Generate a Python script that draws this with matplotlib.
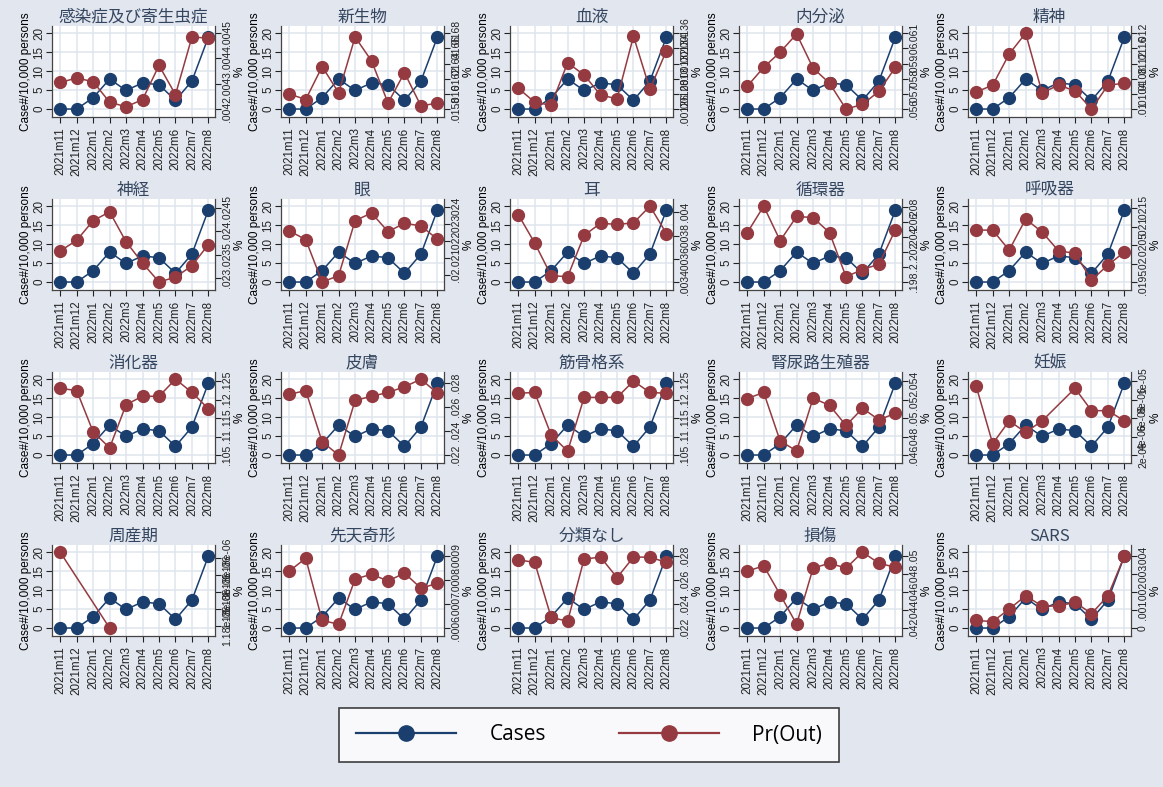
import numpy as np
import matplotlib
matplotlib.use("Agg")
import matplotlib.pyplot as plt
from matplotlib.lines import Line2D

plt.rcParams['font.family'] = ['Liberation Sans', 'Noto Sans CJK JP', 'DejaVu Sans']

months = ['2021m11', '2021m12', '2022m1', '2022m2', '2022m3',
          '2022m4', '2022m5', '2022m6', '2022m7', '2022m8']
cases = [0, 0, 3.0, 7.9, 4.9, 6.9, 6.4, 2.3, 7.4, 19.0]

titles = ['感染症及び寄生虫症', '新生物', '血液', '内分泌', '精神',
          '神経', '眼', '耳', '循環器', '呼吸器',
          '消化器', '皮膚', '筋骨格系', '腎尿路生殖器', '妊娠',
          '周産期', '先天奇形', '分類なし', '損傷', 'SARS']

nan = np.nan
# Pr(Out) as read against the panel height (0-20 band of the left axis)
pr_out = [
    [7.0, 8.2, 7.2, 1.8, 0.6, 2.5, 11.5, 3.8, 19.0, 18.7],
    [4.0, 2.5, 11.2, 4.3, 19.0, 12.7, 1.6, 9.6, 0.8, 1.6],
    [5.5, 1.8, 1.0, 12.2, 9.0, 3.7, 2.7, 19.2, 5.2, 15.4],
    [6.0, 11.0, 15.0, 19.8, 10.8, 6.8, 0.0, 1.2, 4.7, 11.0],
    [4.5, 6.3, 14.5, 20.0, 4.3, 6.3, 4.8, 0.0, 6.3, 6.8],
    [8.2, 11.0, 16.2, 18.5, 10.6, 5.0, 0.0, 1.3, 4.3, 9.9],
    [13.5, 11.2, 0.0, 1.7, 16.2, 18.2, 13.3, 15.5, 14.8, 11.3],
    [17.8, 10.3, 1.7, 1.4, 12.3, 15.5, 15.2, 15.6, 20.0, 12.8],
    [13.0, 20.0, 10.9, 17.3, 17.0, 13.0, 1.4, 3.3, 4.7, 13.8],
    [13.7, 13.7, 8.4, 16.6, 13.2, 8.2, 7.6, 0.5, 4.5, 7.9],
    [17.6, 17.0, 6.1, 1.9, 13.3, 15.5, 15.5, 20.0, 16.5, 12.2],
    [16.0, 17.0, 3.5, 0.0, 14.4, 15.5, 16.5, 18.0, 20.0, 16.3],
    [16.3, 16.5, 5.3, 1.0, 15.2, 15.2, 15.2, 19.5, 16.5, 16.3],
    [14.9, 16.5, 3.7, 1.1, 15.0, 13.1, 7.8, 12.3, 9.3, 11.0],
    [18.1, 3.0, 9.0, 6.0, 9.0, nan, 17.6, 11.7, 11.7, 9.0],
    [20.0, nan, nan, 0.0, nan, nan, nan, nan, nan, nan],
    [15.0, 18.4, 2.0, 1.0, 12.9, 14.2, 12.4, 14.5, 10.5, 11.8],
    [18.0, 17.3, 2.8, 1.8, 18.2, 18.7, 13.3, 18.7, 18.7, 17.3],
    [15.0, 16.4, 8.8, 1.0, 15.8, 17.1, 15.8, 20.0, 17.1, 16.0],
    [2.0, 1.7, 5.0, 8.5, 5.8, 5.8, 6.8, 3.8, 8.5, 19.0],
]

# right-axis (%) tick labels for each panel, with the band they span
right_ticks = [
    (['.0042', '.0043', '.0044', '.0045'], 0, 20),
    (['.0158', '.016', '.0162', '.0164', '.0166', '.0168'], 0, 20),
    (['.00126', '.00128', '.0013', '.00132', '.00134', '.00136'], 0, 20),
    (['.056', '.057', '.058', '.059', '.06', '.061'], 0, 20),
    (['.01', '.0104', '.0108', '.0112', '.0116', '.012'], 0, 20),
    (['.023', '.0235', '.024', '.0245'], 1.0, 19.6),
    (['.02', '.021', '.022', '.023', '.024'], 1.9, 19.9),
    (['.0034', '.0036', '.0038', '.004'], 0, 18.4),
    (['.198', '.2', '.202', '.204', '.206', '.208'], 0, 19.7),
    (['.0195', '.02', '.0205', '.021', '.0215'], 0, 19.5),
    (['.105', '.11', '.115', '.12', '.125'], 0, 19.5),
    (['.022', '.024', '.026', '.028'], 0, 19.0),
    (['.105', '.11', '.115', '.12', '.125'], 0, 19.5),
    (['.046', '.048', '.05', '.052', '.054'], 0, 19.5),
    (['2e-06', '4e-06', '6e-06', '8e-06', '1e-05'], 0, 19.5),
    (['1.18e-06', '1.18e-06', '1.18e-06', '1.18e-06', '1.18e-06'], 0.6, 18.5),
    (['.0006', '.0007', '.0008', '.0009'], 0, 19.0),
    (['.022', '.024', '.026', '.028'], 0, 19.0),
    (['.042', '.044', '.046', '.048', '.05'], 0, 19.0),
    (['0', '.001', '.002', '.003', '.004'], 0, 19.0),
]

navy = '#1a3f6f'
maroon = '#943a40'
bg = '#e2e6ef'
grid_c = '#dfe5ee'
W, H = 1163, 787

fig = plt.figure(figsize=(W / 100, H / 100), dpi=100, facecolor=bg)

x = np.arange(len(months))
for i, title in enumerate(titles):
    r, c = divmod(i, 5)
    left = 52 + c * 229
    top = 26 + r * 173
    ax = fig.add_axes([left / W, 1 - (top + 91) / H, 163 / W, 91 / H])
    ax.set_facecolor('white')
    ax.set_xlim(-0.5, 9.4)
    ax.set_ylim(-2.1, 21.9)
    ax.set_yticks([0, 5, 10, 15, 20])
    ax.set_xticks(x)
    ax.set_xticklabels(months, rotation=90)
    ax.tick_params(labelsize=8.4, colors='#222222', length=4, width=0.8)
    ax.tick_params(axis='y', labelrotation=90, pad=1)
    for lab in ax.get_yticklabels():
        lab.set_va('center')
    ax.grid(True, color=grid_c, linewidth=1.1)
    ax.set_axisbelow(True)
    ax.spines['top'].set_visible(False)
    ax.spines['right'].set_visible(False)
    for s in ('left', 'bottom'):
        ax.spines[s].set_color('#444444')
        ax.spines[s].set_linewidth(0.9)
    ax.set_ylabel('Case#/10,000 persons', fontsize=8.5, labelpad=1)
    ax.set_title(title, fontsize=12, color='#34465f', pad=3,
                 family=['Noto Sans CJK JP', 'DejaVu Sans'])
    ax.plot(x, cases, color=navy, lw=1.1, marker='o', ms=8.5, zorder=3)

    ax2 = ax.twinx()
    ax2.set_ylim(ax.get_ylim())
    labs, p0, p1 = right_ticks[i]
    ax2.set_yticks(np.linspace(p0, p1, len(labs)))
    ax2.set_yticklabels(labs)
    ax2.tick_params(labelsize=7.5, colors='#222222', length=4, width=0.8,
                    labelrotation=90, pad=1)
    for lab in ax2.get_yticklabels():
        lab.set_va('center')
    ax2.spines['top'].set_visible(False)
    ax2.spines['left'].set_visible(False)
    ax2.spines['bottom'].set_visible(False)
    ax2.spines['right'].set_color('#444444')
    ax2.spines['right'].set_linewidth(0.9)
    ax2.set_ylabel('%', fontsize=8.5, rotation=90, labelpad=1)
    y2 = np.array(pr_out[i], dtype=float)
    ok = ~np.isnan(y2)
    ax2.plot(x[ok], y2[ok], color=maroon, lw=1.1, marker='o', ms=8.5)

handles = [Line2D([], [], color=navy, lw=1.6, marker='o', ms=11),
           Line2D([], [], color=maroon, lw=1.6, marker='o', ms=11)]
leg = fig.legend(handles, ['Cases', 'Pr(Out)'], loc='center',
                 bbox_to_anchor=(589 / W, 1 - 735 / H), ncol=2,
                 frameon=True, fancybox=False, edgecolor='#111111',
                 handlelength=4.8, columnspacing=3.5, handletextpad=1.6,
                 borderpad=0.8, prop={'family': ['Open Sans'], 'size': 15})
leg.get_frame().set_linewidth(1.2)
leg.get_frame().set_facecolor('white')

fig.savefig('out.png', dpi=100, facecolor=bg)
